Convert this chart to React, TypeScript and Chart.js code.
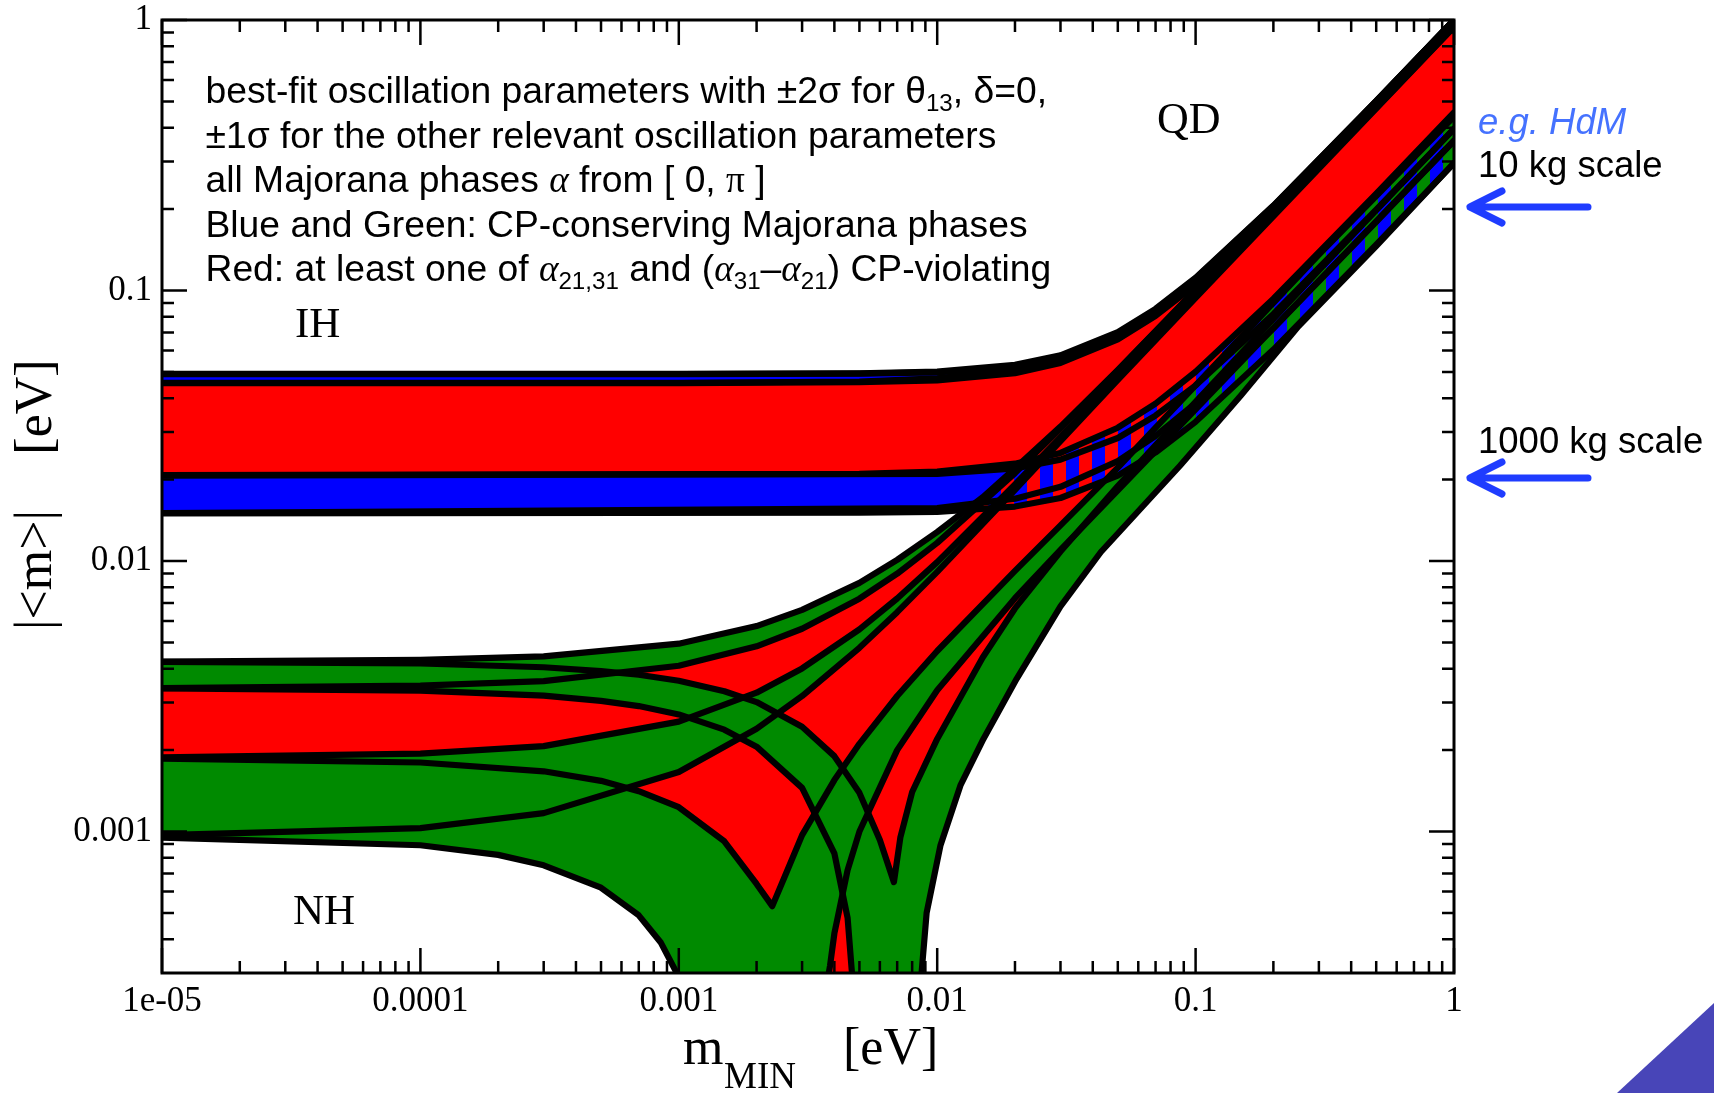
import React, { useEffect, useRef } from 'react';
import { Chart, registerables } from 'chart.js';

Chart.register(...registerables);

type P = [number, number];

// ---------------- axes ----------------
const X_MIN = 1e-5;
const X_MAX = 1;
const Y_MIN = 3.05e-4;
const Y_MAX = 1;
const X_TICKS = [1e-5, 1e-4, 1e-3, 1e-2, 1e-1, 1];
const X_TICK_LABELS = ['1e-05', '0.0001', '0.001', '0.01', '0.1', '1'];
const Y_TICKS = [1e-3, 1e-2, 1e-1, 1];
const Y_TICK_LABELS = ['0.001', '0.01', '0.1', '1'];

// ---------------- NH curves [m_MIN, |<m>|] ----------------
const NH_A_UP: P[] = [[1e-5, 0.00425], [1e-4, 0.00431], [3e-4, 0.00444], [1e-3, 0.00495], [2e-3, 0.00575], [3e-3, 0.0066], [5e-3, 0.0083], [7e-3, 0.0101], [0.01, 0.0128], [0.015, 0.0172], [0.02, 0.022], [0.03, 0.0314], [0.05, 0.0509], [0.1, 0.1005], [0.3, 0.3002], [1, 1.0]];
const NH_B_UP: P[] = [[1e-5, 0.00339], [1e-4, 0.00346], [3e-4, 0.0036], [1e-3, 0.0041], [2e-3, 0.00484], [3e-3, 0.00562], [5e-3, 0.00726], [7e-3, 0.00898], [0.01, 0.01167], [0.02, 0.02113], [0.03, 0.03087], [0.05, 0.0506], [0.1, 0.1003], [0.3, 0.3001], [1, 1.0]];
const NH_C_UP: P[] = [[1e-5, 0.00188], [1e-4, 0.00194], [3e-4, 0.00207], [1e-3, 0.00255], [2e-3, 0.00326], [3e-3, 0.00401], [5e-3, 0.00559], [7e-3, 0.00727], [0.01, 0.00991], [0.02, 0.01919], [0.03, 0.02872], [0.05, 0.04793], [0.1, 0.09604], [0.3, 0.2884], [1, 0.9614]];
const NH_D_UP: P[] = [[1e-5, 0.00097], [1e-4, 0.00103], [3e-4, 0.00117], [1e-3, 0.00166], [2e-3, 0.0024], [3e-3, 0.00317], [5e-3, 0.00478], [7e-3, 0.00647], [0.01, 0.00912], [0.02, 0.01834], [0.03, 0.02777], [0.05, 0.0467], [0.1, 0.09396], [0.3, 0.2825], [1, 0.942]];
const NH_A_DOWN: P[] = [[1e-5, 0.00424], [1e-4, 0.00418], [3e-4, 0.00405], [5e-4, 0.00392], [7e-4, 0.0038], [1e-3, 0.00361], [1.5e-3, 0.0033], [2e-3, 0.00301], [3e-3, 0.00244], [4e-3, 0.0019], [5e-3, 0.00139], [6e-3, 0.00093], [6.8e-3, 0.00065], [7.2e-3, 0.00095], [8e-3, 0.0014], [0.01, 0.0022], [0.015, 0.0044], [0.02, 0.00668], [0.03, 0.01085], [0.05, 0.01894], [0.1, 0.03874], [0.3, 0.1187], [1, 0.396]];
const NH_B_DOWN: P[] = [[1e-5, 0.00338], [1e-4, 0.00332], [3e-4, 0.00318], [5e-4, 0.00304], [7e-4, 0.00291], [1e-3, 0.00271], [1.5e-3, 0.00238], [2e-3, 0.00206], [3e-3, 0.00145], [4e-3, 0.00083], [4.5e-3, 0.00048], [4.8e-3, 0.00022], [5e-3, 0.0001]];
const NH_C_DOWN: P[] = [[1e-5, 0.00186], [1e-4, 0.0018], [3e-4, 0.00167], [5e-4, 0.00154], [7e-4, 0.00141], [1e-3, 0.00123], [1.5e-3, 0.00092], [2e-3, 0.00064], [2.3e-3, 0.00053], [2.6e-3, 0.0007], [3e-3, 0.00097], [4e-3, 0.00155], [5e-3, 0.00211], [7e-3, 0.00317], [0.01, 0.00465], [0.02, 0.00919], [0.03, 0.01354], [0.05, 0.02215], [0.1, 0.0446], [0.3, 0.1358], [1, 0.44]];
const NH_D_DOWN: P[] = [[1e-5, 0.00095], [1e-4, 0.00089], [2e-4, 0.00082], [3e-4, 0.00075], [5e-4, 0.00062], [7e-4, 0.00049], [8.5e-4, 0.00039], [1e-3, 0.00029], [1.1e-3, 0.00022], [1.2e-3, 0.00015]];
const NH_E_RISE: P[] = [[3.4e-3, 0.00012], [3.6e-3, 0.00022], [3.85e-3, 0.00032], [4e-3, 0.00042], [4.5e-3, 0.00072], [5e-3, 0.001], [7e-3, 0.002], [0.01, 0.00333], [0.02, 0.00729], [0.03, 0.011], [0.05, 0.01826], [0.1, 0.03636], [0.3, 0.1088], [1, 0.358]];
const NH_LOW: P[] = [[8.4e-3, 0.0001], [8.7e-3, 0.0003], [9.1e-3, 0.0005], [0.0103, 0.00089], [0.0123, 0.00148], [0.0151, 0.0022], [0.0203, 0.00367], [0.03, 0.0068], [0.043, 0.0108], [0.087, 0.0225], [0.15, 0.041], [0.25, 0.0737], [0.5, 0.146], [1, 0.296]];

// ---------------- IH curves ----------------
const IH_00MAX: P[] = [[1e-5, 0.0492], [1e-3, 0.0492], [5e-3, 0.0494], [0.01, 0.0502], [0.02, 0.0531], [0.03, 0.0576], [0.05, 0.0702], [0.07, 0.0856], [0.1, 0.1115], [0.2, 0.206], [0.5, 0.5024], [1, 1.001]];
const IH_0PMAX: P[] = [[1e-5, 0.0491], [1e-3, 0.0491], [5e-3, 0.0493], [0.01, 0.0498], [0.02, 0.0523], [0.03, 0.0564], [0.05, 0.0683], [0.07, 0.0829], [0.1, 0.1076], [0.2, 0.1983], [0.5, 0.4831], [1, 0.9626]];
const IH_00MIN: P[] = [[1e-5, 0.0456], [1e-3, 0.0456], [5e-3, 0.0461], [0.01, 0.0474], [0.02, 0.051], [0.03, 0.0557], [0.05, 0.069], [0.07, 0.0847], [0.1, 0.1108], [0.2, 0.2056], [0.5, 0.5023], [1, 1.0]];
const IH_0PMIN: P[] = [[1e-5, 0.0455], [1e-3, 0.0455], [5e-3, 0.0458], [0.01, 0.0465], [0.02, 0.0495], [0.03, 0.054], [0.05, 0.066], [0.07, 0.0806], [0.1, 0.105], [0.2, 0.194], [0.5, 0.4733], [1, 0.9432]];
const IH_P0MAX: P[] = [[1e-5, 0.0208], [5e-3, 0.021], [0.01, 0.0214], [0.02, 0.0229], [0.03, 0.0251], [0.05, 0.0311], [0.07, 0.0382], [0.1, 0.0501], [0.2, 0.0932], [0.5, 0.2282], [1, 0.455]];
const IH_PPMAX: P[] = [[1e-5, 0.0207], [0.01, 0.021], [0.02, 0.022], [0.03, 0.0237], [0.05, 0.0285], [0.07, 0.0345], [0.1, 0.0446], [0.2, 0.0819], [0.5, 0.1992], [1, 0.396]];
const IH_P0MIN: P[] = [[1e-5, 0.01505], [0.01, 0.0157], [0.02, 0.017], [0.03, 0.0188], [0.05, 0.0234], [0.07, 0.029], [0.1, 0.0383], [0.2, 0.0725], [0.5, 0.1793], [1, 0.358]];
const IH_PPMIN: P[] = [[1e-5, 0.015], [5e-3, 0.0151], [0.01, 0.0152], [0.02, 0.0159], [0.03, 0.0171], [0.05, 0.0207], [0.07, 0.0252], [0.1, 0.0327], [0.2, 0.0605], [0.5, 0.1478], [1, 0.296]];
// part of the IH blue band lying above the NH region (drawn solid)
const IH_BLUE_SOLID: P[] = [[1e-5, 0.0208], [5e-3, 0.021], [0.01, 0.0214], [0.02, 0.0229], [0.0212, 0.0232], [0.02, 0.022], [0.015, 0.0172], [0.0129, 0.01545], [0.01, 0.0152], [5e-3, 0.0151], [1e-5, 0.015]];

const RED = '#ff0000';
const GREEN = '#008a00';
const BLUE = '#0000ff';

const SANS = '"Liberation Sans", Arial, sans-serif';
const SERIF = '"Liberation Serif", "Times New Roman", serif';

type Seg = { t: string; f: string; dy?: number };
const TF = 37;
const N = `${TF}px ${SANS}`;
const S = `24px ${SANS}`;
const GI = `italic ${TF}px ${SERIF}`;
const G = `${TF}px ${SERIF}`;
const INFO_LINES: Seg[][] = [
  [{ t: 'best-fit oscillation parameters with ±2σ for θ', f: N }, { t: '13', f: S, dy: 8 }, { t: ', δ=0,', f: N }],
  [{ t: '±1σ for the other relevant oscillation parameters', f: N }],
  [{ t: 'all Majorana phases ', f: N }, { t: 'α', f: GI }, { t: ' from [ 0, ', f: N }, { t: 'π', f: G }, { t: ' ]', f: N }],
  [{ t: 'Blue and Green: CP-conserving Majorana phases', f: N }],
  [{ t: 'Red: at least one of ', f: N }, { t: 'α', f: GI }, { t: '21,31', f: S, dy: 8 }, { t: ' and (', f: N }, { t: 'α', f: GI }, { t: '31', f: S, dy: 8 }, { t: '–', f: N }, { t: 'α', f: GI }, { t: '21', f: S, dy: 8 }, { t: ') CP-violating', f: N }],
];
const INFO_BASELINES = [103, 147.5, 192, 236.5, 281];

const toXY = (pts: P[]) => pts.map(([x, y]) => ({ x, y }));
const rev = (pts: P[]) => [...pts].reverse();

function measureRich(ctx: CanvasRenderingContext2D, segs: Seg[]) {
  let w = 0;
  for (const s of segs) { ctx.font = s.f; w += ctx.measureText(s.t).width; }
  return w;
}
function drawRich(ctx: CanvasRenderingContext2D, segs: Seg[], x: number, y: number, sx: number) {
  ctx.save();
  ctx.translate(x, y);
  ctx.scale(sx, 1);
  let cx = 0;
  for (const s of segs) {
    ctx.font = s.f;
    ctx.fillText(s.t, cx, s.dy || 0);
    cx += ctx.measureText(s.t).width;
  }
  ctx.restore();
}

const decor = {
  id: 'decor',
  afterDraw(chart: any) {
    const ctx: CanvasRenderingContext2D = chart.ctx;
    const a = chart.chartArea;
    const xs = chart.scales.x;
    const ys = chart.scales.y;
    ctx.save();
    // ticks (inward)
    ctx.strokeStyle = '#000';
    ctx.lineWidth = 2.5;
    ctx.beginPath();
    for (let d = -5; d <= 0; d++) {
      for (let k = 1; k <= 9; k++) {
        const v = k * Math.pow(10, d);
        if (v > X_MAX * 1.0001) break;
        const px = xs.getPixelForValue(v);
        const len = k === 1 ? 25 : 12;
        ctx.moveTo(px, a.bottom); ctx.lineTo(px, a.bottom - len);
        ctx.moveTo(px, a.top); ctx.lineTo(px, a.top + len);
      }
    }
    for (let d = -4; d <= 0; d++) {
      for (let k = 1; k <= 9; k++) {
        const v = k * Math.pow(10, d);
        if (v < Y_MIN) continue;
        if (v > Y_MAX * 1.0001) break;
        const py = ys.getPixelForValue(v);
        const len = k === 1 ? 25 : 12;
        ctx.moveTo(a.left, py); ctx.lineTo(a.left + len, py);
        ctx.moveTo(a.right, py); ctx.lineTo(a.right - len, py);
      }
    }
    ctx.stroke();
    ctx.lineWidth = 3;
    ctx.strokeRect(a.left, a.top, a.right - a.left, a.bottom - a.top);

    // info text
    ctx.fillStyle = '#000';
    ctx.textBaseline = 'alphabetic';
    ctx.textAlign = 'left';
    const sx = 822 / measureRich(ctx, INFO_LINES[3]);
    INFO_LINES.forEach((segs, i) => drawRich(ctx, segs, 205.5, INFO_BASELINES[i], sx));

    // region labels
    ctx.font = `43px ${SERIF}`;
    ctx.fillText('IH', 295, 337);
    ctx.fillText('NH', 293, 924);
    ctx.font = `44px ${SERIF}`;
    ctx.fillText('QD', 1157, 133);

    // axis titles
    ctx.font = `52px ${SERIF}`;
    ctx.fillText('m', 683, 1064);
    ctx.font = `37px ${SERIF}`;
    ctx.fillText('MIN', 724, 1088);
    ctx.font = `52px ${SERIF}`;
    ctx.fillText('[eV]', 843, 1064);
    ctx.save();
    ctx.textAlign = 'center';
    ctx.translate(51, 570);
    ctx.rotate(-Math.PI / 2);
    ctx.fillText('|<m>|', 0, 0);
    ctx.restore();
    ctx.save();
    ctx.textAlign = 'center';
    ctx.font = `52px ${SERIF}`;
    ctx.translate(51, 407);
    ctx.rotate(-Math.PI / 2);
    ctx.fillText('[eV]', 0, 0);
    ctx.restore();

    // right annotations
    ctx.font = `italic 36.5px ${SANS}`;
    ctx.fillStyle = '#4572ff';
    ctx.fillText('e.g. HdM', 1478, 134);
    ctx.fillStyle = '#000';
    ctx.font = `36.5px ${SANS}`;
    ctx.fillText('10 kg scale', 1478, 177);
    ctx.fillText('1000 kg scale', 1478, 453);

    ctx.strokeStyle = '#1f3cff';
    ctx.lineWidth = 7;
    ctx.lineCap = 'round';
    ctx.lineJoin = 'round';
    for (const yy of [207, 478]) {
      ctx.beginPath();
      ctx.moveTo(1588, yy); ctx.lineTo(1470, yy);
      ctx.moveTo(1502, yy - 16); ctx.lineTo(1470, yy); ctx.lineTo(1502, yy + 16);
      ctx.stroke();
    }

    // corner triangle
    ctx.fillStyle = '#4845b8';
    ctx.beginPath();
    ctx.moveTo(1617, 1093); ctx.lineTo(1714, 1093); ctx.lineTo(1714, 1003); ctx.closePath();
    ctx.fill();
    ctx.restore();
  },
};

export default function App() {
  const ref = useRef<HTMLCanvasElement>(null);
  useEffect(() => {
    const canvas = ref.current;
    if (!canvas) return;
    const pc = document.createElement('canvas');
    pc.width = 26; pc.height = 8;
    const pctx = pc.getContext('2d')!;
    pctx.fillStyle = BLUE;
    pctx.fillRect(0, 0, 13, 8);
    const stripe = canvas.getContext('2d')!.createPattern(pc, 'repeat');

    const fills: { pts: P[]; color: any }[] = [
      { pts: [...NH_A_UP, ...rev(NH_LOW), ...rev(NH_D_DOWN)], color: RED },
      { pts: [...NH_A_UP, ...rev(NH_B_UP)], color: GREEN },
      { pts: [...NH_C_UP, ...rev(NH_D_UP)], color: GREEN },
      { pts: [...NH_C_DOWN, ...rev(NH_E_RISE), ...rev(NH_D_DOWN)], color: GREEN },
      { pts: [...NH_A_DOWN, ...rev(NH_LOW), ...rev(NH_B_DOWN)], color: GREEN },
      { pts: [...IH_0PMIN, ...rev(IH_P0MAX)], color: RED },
      { pts: [...IH_00MAX, ...rev(IH_0PMIN)], color: BLUE },
      { pts: [...IH_P0MAX, ...rev(IH_PPMIN)], color: stripe },
      { pts: IH_BLUE_SOLID, color: BLUE },
    ];
    const lines: P[][] = [
      NH_A_UP, NH_B_UP, NH_C_UP, NH_D_UP, NH_A_DOWN, NH_B_DOWN, NH_C_DOWN, NH_D_DOWN, NH_E_RISE, NH_LOW,
      IH_00MAX, IH_00MIN, IH_0PMAX, IH_0PMIN, IH_P0MAX, IH_P0MIN, IH_PPMAX, IH_PPMIN,
    ];
    const total = fills.length + lines.length;
    const datasets: any[] = [];
    fills.forEach((f, i) => datasets.push({
      data: toXY(f.pts), fill: 'shape', backgroundColor: f.color, borderWidth: 0,
      pointRadius: 0, tension: 0, order: total - i,
    }));
    lines.forEach((l, j) => datasets.push({
      data: toXY(l), fill: false, borderColor: '#000', borderWidth: 6.2, pointRadius: 0,
      tension: 0, borderJoinStyle: 'round', borderCapStyle: 'round', order: total - fills.length - j,
    }));

    const chart = new Chart(canvas, {
      type: 'line',
      data: { datasets },
      options: {
        responsive: false,
        animation: false,
        devicePixelRatio: 1,
        layout: { padding: { left: 0, right: 260, top: 20, bottom: 0 } },
        plugins: { legend: { display: false }, tooltip: { enabled: false } },
        scales: {
          x: {
            type: 'logarithmic', min: X_MIN, max: X_MAX, position: 'bottom',
            grid: { display: false, drawTicks: false, tickLength: 0 },
            border: { display: false },
            afterBuildTicks: (s: any) => { s.ticks = X_TICKS.map((v) => ({ value: v })); },
            afterFit: (s: any) => { s.height = 120; s.paddingLeft = 0; s.paddingRight = 0; },
            ticks: {
              autoSkip: false, maxRotation: 0, minRotation: 0, padding: 8, color: '#000',
              font: { family: 'Liberation Serif', size: 35 },
              callback: (_v: any, i: number) => X_TICK_LABELS[i],
            },
          },
          y: {
            type: 'logarithmic', min: Y_MIN, max: Y_MAX, position: 'left',
            grid: { display: false, drawTicks: false, tickLength: 0 },
            border: { display: false },
            afterBuildTicks: (s: any) => { s.ticks = Y_TICKS.map((v) => ({ value: v })); },
            afterFit: (s: any) => { s.width = 162; s.paddingTop = 0; s.paddingBottom = 0; },
            ticks: {
              autoSkip: false, padding: 10, color: '#000',
              font: { family: 'Liberation Serif', size: 35 },
              callback: (_v: any, i: number) => Y_TICK_LABELS[i],
            },
          },
        },
      } as any,
      plugins: [decor],
    });
    return () => chart.destroy();
  }, []);
  return (
    <div style={{ position: 'fixed', left: 0, top: 0, width: 1714, height: 1093, background: '#fff' }}>
      <canvas ref={ref} width={1714} height={1093} style={{ width: 1714, height: 1093, display: 'block' }} />
    </div>
  );
}
